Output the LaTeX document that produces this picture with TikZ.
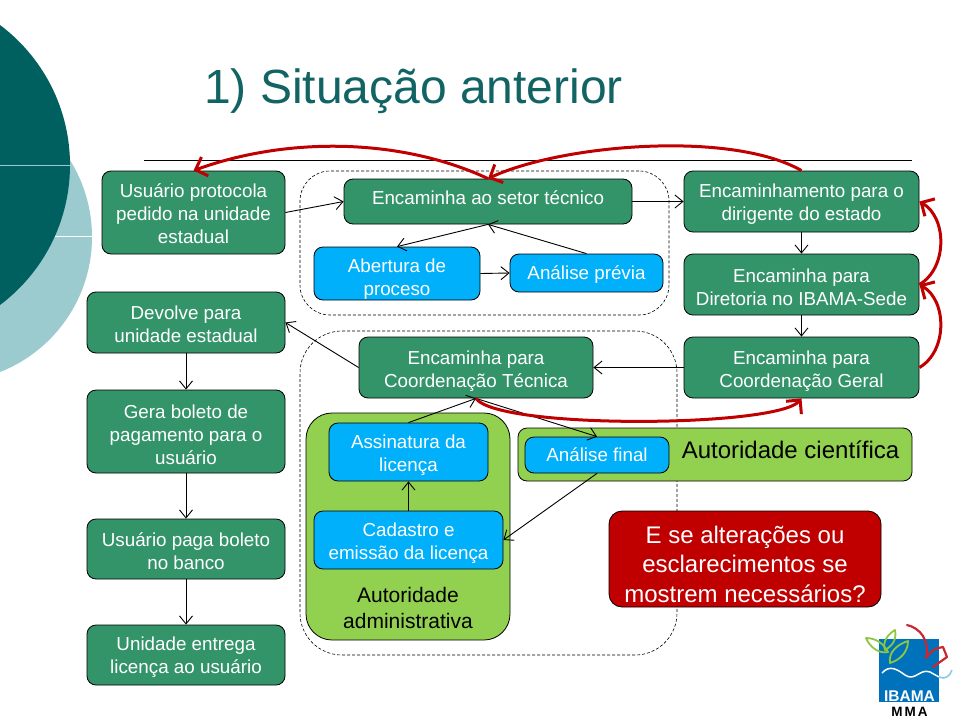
\documentclass[tikz,border=0pt]{standalone}
\usepackage{fontspec}
\setmainfont{Liberation Sans}
\usetikzlibrary{arrows.meta,positioning}
\definecolor{tealdark}{RGB}{0,96,95}
\definecolor{teallight}{RGB}{156,203,207}
\definecolor{titleteal}{RGB}{18,100,100}
\definecolor{stepgreen}{RGB}{52,148,105}
\definecolor{stepblue}{RGB}{0,176,250}
\definecolor{groupgreen}{RGB}{146,208,80}
\definecolor{alertred}{RGB}{192,0,0}
\definecolor{logoblue}{RGB}{0,114,188}
\definecolor{logogreen}{RGB}{141,198,63}
\definecolor{logored}{RGB}{200,40,50}
\definecolor{logowave}{RGB}{130,200,235}
\tikzset{
  >={Straight Barb[length=8pt,width=13pt]},
  textdrop/.style={execute at begin node={\rule{0pt}{#1}}},
  basebox/.style={rectangle, rounded corners=9pt, draw=black, line width=0.8pt, inner sep=0pt, align=center,
    font=\fontsize{18.8}{23}\selectfont},
  greenbox/.style={basebox, fill=stepgreen, text=white},
  bluebox/.style={basebox, fill=stepblue, text=white},
  groupbox/.style={basebox, fill=groupgreen, rounded corners=26pt},
  dashbox/.style={rectangle, rounded corners=30pt, draw=black, densely dashed, line width=0.6pt},
  flow/.style={->, line width=0.9pt},
  redflow/.style={->, draw=alertred, line width=3pt, >={Straight Barb[length=10pt,width=20pt]}}
}
\begin{document}
\begin{tikzpicture}[x=1pt,y=-1pt]
\useasboundingbox (0,0) rectangle (960,720);

% background circles
\begin{scope}
\clip (0,0) rectangle (960,720);
\fill[teallight] (-53,237) circle[radius=145];
\draw[white, line width=0.4pt] (0,236.5) -- (92,236.5);
\fill[tealdark] (-105,165) circle[radius=175];
\draw[teallight, line width=0.4pt] (0,165) -- (70,165);
\end{scope}

% title
\node[anchor=center, text=titleteal, font=\fontsize{48}{54}\selectfont] (title_text) at (413.5,91) {1) Situação anterior};
\draw[line width=0.8pt] (144,160.5) coordinate (rule_left) -- (912,160.5) coordinate (rule_right);

% dashed groups
\node[dashbox, minimum width=369pt, minimum height=144pt] (tecnico_group) at (484.5,243) {};
\node[dashbox, minimum width=377pt, minimum height=324pt, rounded corners=42pt] (sede_group) at (488.5,493) {};

% solid groups
\node[groupbox, minimum width=204pt, minimum height=227pt] (admin_group) at (408,526.5) {};
\node[groupbox, rounded corners=9pt, minimum width=394pt, minimum height=53pt] (cientifica_group) at (715,454.5) {};
\node[font=\fontsize{21}{26}\selectfont, align=center] (admin_text) at (408,608) {Autoridade\\administrativa};
\node[font=\fontsize{24}{28}\selectfont] (cientifica_text) at (790.5,450) {Autoridade científica};

% left column
\node[greenbox, textdrop=62.5pt, minimum width=183pt, minimum height=83pt] (usuario_step) at (193.5,212.5) {Usuário protocola\\pedido na unidade\\estadual};
\node[greenbox, textdrop=40.5pt, minimum width=198pt, minimum height=61pt] (devolve_step) at (186,322.5) {Devolve para\\unidade estadual};
\node[greenbox, textdrop=65.5pt, minimum width=198pt, minimum height=83pt] (boleto_step) at (186,431.5) {Gera boleto de\\pagamento para o\\usuário};
\node[greenbox, textdrop=41.5pt, minimum width=198pt, minimum height=60pt] (banco_step) at (186,549) {Usuário paga boleto\\no banco};
\node[greenbox, textdrop=41.5pt, minimum width=198pt, minimum height=60pt] (entrega_step) at (186,655) {Unidade entrega\\licença ao usuário};

% middle
\node[greenbox, minimum width=288pt, minimum height=45pt] (setor_step) at (488,201.5) {\rule[-7pt]{0pt}{7pt}Encaminha ao setor técnico};
\node[bluebox, textdrop=48.5pt, minimum width=166pt, minimum height=53pt] (abertura_step) at (397,273.5) {Abertura de\\proceso};
\node[bluebox, textdrop=17.5pt, minimum width=153pt, minimum height=38pt] (previa_step) at (586.5,273) {Análise prévia};
\node[greenbox, textdrop=43.5pt, minimum width=234pt, minimum height=61pt] (tecnica_step) at (476,367.5) {Encaminha para\\Coordenação Técnica};
\node[bluebox, textdrop=43.5pt, minimum width=159pt, minimum height=58pt] (assinatura_step) at (408.5,452) {Assinatura da\\licença};
\node[bluebox, textdrop=43.5pt, minimum width=189pt, minimum height=58pt] (cadastro_step) at (408.5,540) {Cadastro e\\emissão da licença};
\node[bluebox, minimum width=144pt, minimum height=36pt] (final_step) at (597,455) {Análise final};

% right column
\node[greenbox, textdrop=41.5pt, minimum width=235pt, minimum height=61pt] (dirigente_step) at (801.5,201.5) {Encaminhamento para o\\dirigente do estado};
\node[greenbox, textdrop=41.5pt, minimum width=235pt, minimum height=61pt] (diretoria_step) at (801.5,284.5) {Encaminha para\\Diretoria no IBAMA-Sede};
\node[greenbox, textdrop=43.5pt, minimum width=235pt, minimum height=61pt] (geral_step) at (801.5,367.5) {Encaminha para\\Coordenação Geral};
\node[basebox, fill=alertred, text=white, rounded corners=13pt, minimum width=272pt, minimum height=96pt,
  textdrop=87pt, font=\fontsize{24}{29.5}\selectfont] (duvida_note) at (745,559) {E se alterações ou\\esclarecimentos se\\mostrem necessários?};

% black connectors
\draw[flow] (usuario_step.east) -- (setor_step.west);
\draw[flow] (setor_step.south) -- (abertura_step.north);
\draw[flow] (abertura_step.east) -- (previa_step.west);
\draw[flow] (previa_step.north) -- (setor_step.south);
\draw[flow] (setor_step.east) -- (dirigente_step.west);
\draw[flow] (dirigente_step.south) -- (diretoria_step.north);
\draw[flow] (diretoria_step.south) -- (geral_step.north);
\draw[flow] (geral_step.west) -- (tecnica_step.east);
\draw[flow] (tecnica_step.west) -- (devolve_step.east);
\draw[flow] (devolve_step.south) -- (boleto_step.north);
\draw[flow] (boleto_step.south) -- (banco_step.north);
\draw[flow] (banco_step.south) -- (entrega_step.north);
\draw[flow] (assinatura_step.north) -- (tecnica_step.south);
\draw[flow] (tecnica_step.south) -- (final_step.north);
\draw[flow] (final_step.south) -- (cadastro_step.east);
\draw[flow] (cadastro_step.north) -- (assinatura_step.south);

% red return arrows
\draw[redflow] (dirigente_step.north) to[out=150,in=25,looseness=0.66] (setor_step.north);
\draw[redflow] (setor_step.north) to[out=155,in=20,looseness=0.85] (usuario_step.north);
\draw[redflow] (geral_step.east) to[bend right=60] (diretoria_step.east);
\draw[redflow] (diretoria_step.east) to[bend right=60] (dirigente_step.east);
\draw[redflow] (tecnica_step.south) to[out=-55,in=-130,looseness=0.3] (geral_step.south);

% logo
\fill[logoblue] (879,639) rectangle (939,702);
\draw[logored, line width=2.2pt, line cap=round, line join=round] (907,625) .. controls (920,628) and (930,640) .. (926,658)
  .. controls (932,650) and (936,648) .. (943,647) -- (947,657) -- (933,667);
\draw[logogreen, line width=1.8pt, line join=round] (866,638) .. controls (876,638) and (884,644) .. (888,652) .. controls (880,654) and (870,648) .. cycle;
\draw[logogreen, line width=1.8pt, line join=round] (895,630) .. controls (897,640) and (892,646) .. (885,650) .. controls (882,642) and (888,634) .. cycle;
\draw[logogreen, line width=1.8pt, line join=round] (908,641) .. controls (908,652) and (900,660) .. (890,663) .. controls (888,652) and (898,644) .. cycle;
\draw[white, line width=1.5pt] (882,673) .. controls (890,664) and (898,670) .. (905,675) .. controls (915,682) and (920,668) .. (930,672) -- (939,677);
\draw[logowave, line width=1.5pt] (939,677) .. controls (945,680) and (950,676) .. (952,670);
\node[text=white, font=\bfseries\fontsize{15.5}{16}\selectfont, inner sep=0pt] (ibama_text) at (909.5,696) {IBAMA};
\node[text=black, font=\bfseries\fontsize{13.5}{14}\selectfont\addfontfeature{LetterSpace=15}, inner sep=0pt] (mma_text) at (909.5,712) {MMA};

\end{tikzpicture}
\end{document}
